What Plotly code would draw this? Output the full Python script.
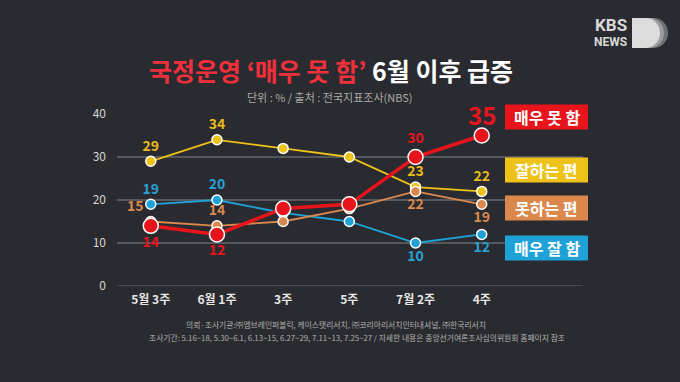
import plotly.graph_objects as go

categories = ["5월 3주", "6월 1주", "3주", "5주", "7월 2주", "4주"]
very_bad = [14, 12, 18, 19, 30, 35]
good = [29, 34, 32, 30, 23, 22]
bad = [15, 14, 15, 18, 22, 19]
very_good = [19, 20, 17, 15, 10, 12]
y_ticks = [0, 10, 20, 30, 40]

very_bad_txt = ["<b>14</b>", "<b>12</b>", "", "", "<b>30</b>", ""]
good_txt = ["<b>29</b>", "<b>34</b>", "", "", "<b>23</b>", "<b>22</b>"]
bad_txt = ["<b>15</b>", "<b>14</b>", "", "", "<b>22</b>", "<b>19</b>"]
very_good_txt = ["<b>19</b>", "<b>20</b>", "", "", "<b>10</b>", "<b>12</b>"]

RED = "#e8141c"
YEL = "#efc21a"
ORA = "#dc884c"
BLU = "#1ea2d8"
BG = "#2a2b30"
FONT = "Noto Sans CJK KR"

L, R, T, B = 117, 583, 114, 286
W, H = R - L, B - T

def px(xp):
    return (xp - L) / W

def py(yp):
    return (B - yp) / H

x = list(range(len(categories)))
fig = go.Figure()

def add(vals, txt, pos, col, tcol, lw, ms, tsize=14):
    fig.add_trace(go.Scatter(
        x=x, y=vals, mode="lines+markers+text", text=txt, textposition=pos,
        line=dict(color=col, width=lw),
        marker=dict(size=ms, color=col, line=dict(color="white", width=1.5)),
        textfont=dict(color=tcol, size=tsize, family=FONT),
        cliponaxis=False, showlegend=False, hoverinfo="skip"))

add(good, good_txt, ["top center"] * 6, YEL, "#e9bb1c", 1.8, 10)
add(very_good, very_good_txt,
    ["top center", "top center", "top center", "top center", "bottom center", "bottom center"],
    BLU, "#2aa0d4", 1.8, 10)
add(bad, bad_txt,
    ["top left", "top center", "top center", "top center", "bottom center", "bottom center"],
    ORA, "#d98a4e", 1.8, 10)
add(very_bad, very_bad_txt,
    ["bottom center", "bottom center", "top center", "top center", "top center", "top center"],
    RED, "#e8141c", 3.5, 15)

# big "35" label
fig.add_annotation(x=5, y=very_bad[5], text="<b>" + str(very_bad[5]) + "</b>", showarrow=False,
                   xanchor="center", yanchor="middle",
                   yshift=21, font=dict(color=RED, size=24, family=FONT))

fig.update_layout(
    width=680, height=382,
    paper_bgcolor=BG, plot_bgcolor=BG,
    margin=dict(l=L, r=680 - R, t=T, b=382 - B),
    font=dict(family=FONT, color="#dddddd"),
    xaxis=dict(range=[-0.51, 6.53], tickvals=x, ticktext=["<b>" + c + "</b>" for c in categories],
               showgrid=False, zeroline=False, showline=False, fixedrange=True,
               tickfont=dict(size=12, color="#e6e6e6", family=FONT), ticklen=0,
               ticklabelstandoff=5),
    yaxis=dict(range=[0, 40], tickvals=y_ticks, showgrid=True,
               gridcolor="#56575c", gridwidth=1.5, zeroline=False, showline=False,
               tickfont=dict(size=12, color="#d6d6d6", family=FONT), ticklen=0,
               ticklabelstandoff=10),
)
fig.add_shape(type="line", xref="paper", yref="y", x0=0, x1=1, y0=0, y1=0,
              line=dict(color="#56575c", width=1.5), layer="below")

# Title
fig.add_annotation(xref="paper", yref="paper", x=px(331), y=py(70), xanchor="center", yanchor="middle",
                   text="<b><span style='color:#f0303a'>국정운영 ‘매우 못 함’</span> 6월 이후 급증</b>",
                   showarrow=False, font=dict(size=25, color="white", family=FONT))
fig.add_annotation(xref="paper", yref="paper", x=px(330), y=py(97), xanchor="center", yanchor="middle",
                   text="단위 : % / 출처 : 전국지표조사(NBS)", showarrow=False,
                   font=dict(size=11, color="#aaaaaa", family=FONT))

# Legend boxes
legend = [("매우 못 함", RED, 117), ("잘하는 편", YEL, 170), ("못하는 편", ORA, 208), ("매우 잘 함", BLU, 248)]
for name, col, yc in legend:
    fig.add_shape(type="rect", xref="paper", yref="paper",
                  x0=px(505), x1=px(588), y0=py(yc + 12.5), y1=py(yc - 12.5),
                  fillcolor=col, line=dict(width=0), layer="above")
    fig.add_annotation(xref="paper", yref="paper", x=px(546.5), y=py(yc),
                       xanchor="center", yanchor="middle",
                       text="<b>" + name + "</b>", showarrow=False,
                       font=dict(size=16, color="white", family=FONT))

# Footer
fig.add_annotation(xref="paper", yref="paper", x=px(336), y=py(324), xanchor="center", yanchor="middle",
                   text="의뢰·조사기관:㈜엠브레인퍼블릭, 케이스탯리서치, ㈜코리아리서치인터내셔널, ㈜한국리서치",
                   showarrow=False, font=dict(size=7.8, color="#b0b0b0", family=FONT))
fig.add_annotation(xref="paper", yref="paper", x=px(357), y=py(337), xanchor="center", yanchor="middle",
                   text="조사기간: 5.16~18, 5.30~6.1, 6.13~15, 6.27~29, 7.11~13, 7.25~27 / 자세한 내용은 중앙선거여론조사심의위원회 홈페이지 참조",
                   showarrow=False, font=dict(size=7.8, color="#b0b0b0", family=FONT))

# KBS NEWS logo
fig.add_annotation(xref="paper", yref="paper", x=px(629), y=py(25), xanchor="right", yanchor="middle",
                   text="<b>KBS</b>", showarrow=False,
                   font=dict(size=17, color="#d8d8d8", family="Roboto"))
fig.add_annotation(xref="paper", yref="paper", x=px(629), y=py(42), xanchor="right", yanchor="middle",
                   text="<b>NEWS</b>", showarrow=False,
                   font=dict(size=12, color="#d8d8d8", family="Roboto"))
for i, c in [(2, "#6f7176"), (1, "#9a9ca0"), (0, "#dcdcdc")]:
    fig.add_shape(type="circle", xref="paper", yref="paper",
                  x0=px(632 + 4 * i), x1=px(660 + 4 * i), y0=py(48), y1=py(18),
                  fillcolor=c, line=dict(width=0), layer="above")
    fig.add_shape(type="rect", xref="paper", yref="paper",
                  x0=px(632 + 4 * i), x1=px(646 + 4 * i), y0=py(48), y1=py(18),
                  fillcolor=c, line=dict(width=0), layer="above")

fig.write_html("out.html", config={"displayModeBar": False},
               post_script="document.body.style.margin='0';document.body.style.background='#2a2b30';")
